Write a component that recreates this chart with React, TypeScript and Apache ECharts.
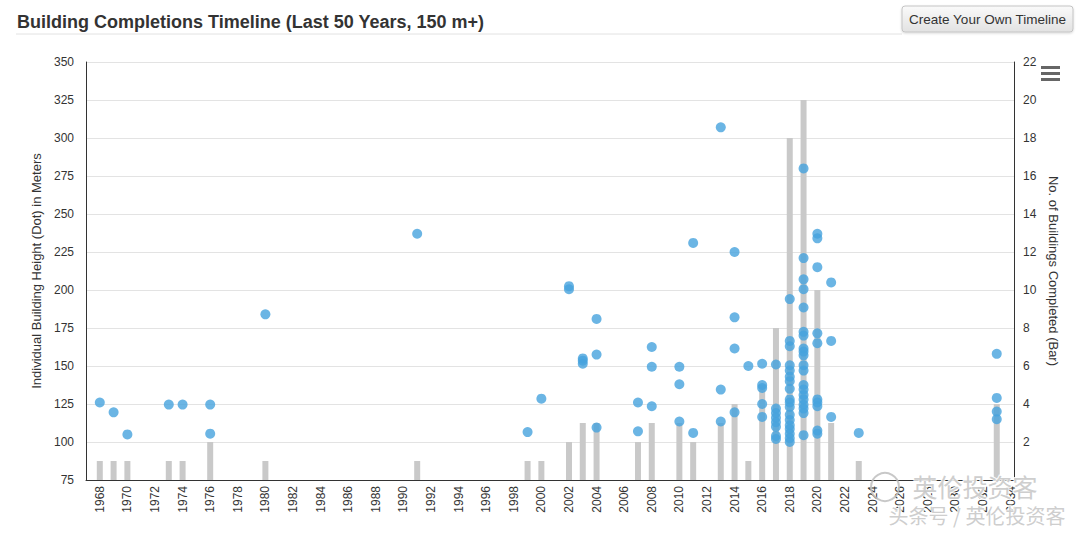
import React, { useEffect, useRef } from "react";
import * as echarts from "echarts";

const TITLE = "Building Completions Timeline (Last 50 Years, 150 m+)";
const BUTTON_TEXT = "Create Your Own Timeline";
const LEFT_AXIS_NAME = "Individual Building Height (Dot) in Meters";
const RIGHT_AXIS_NAME = "No. of Buildings Completed (Bar)";

const years = [1968, 1969, 1970, 1973, 1974, 1976, 1980, 1991, 1999, 2000, 2002, 2003, 2004, 2007, 2008, 2010, 2011, 2013, 2014, 2015, 2016, 2017, 2018, 2019, 2020, 2021, 2023, 2033];
const barCounts = [1, 1, 1, 1, 1, 2, 1, 1, 1, 1, 2, 3, 3, 2, 3, 3, 2, 3, 4, 1, 5, 8, 18, 20, 10, 3, 1, 4];
const heightsByYear: number[][] = [
  [126],
  [119.5],
  [105],
  [124.6],
  [124.6],
  [124.6, 105.5],
  [184],
  [237],
  [106.5],
  [128.5],
  [200.5, 202.5],
  [151.5, 153.5, 155],
  [181, 157.5, 109.5],
  [126, 107],
  [162.5, 149.5, 123.5],
  [149.5, 138, 113.5],
  [231, 106],
  [307, 134.5, 113.5],
  [225, 182, 161.5, 119.5],
  [150],
  [151.5, 137.5, 135.5, 125, 116.5],
  [151, 122, 119, 116, 113, 110, 104, 102],
  [194, 166.5, 163, 150.5, 147, 143, 140, 135, 128, 126, 123, 118, 114.5, 111, 108.5, 105.5, 102.5, 100],
  [280, 221, 207, 200.5, 188.5, 172.5, 170, 161.5, 159.5, 157, 150.5, 147, 137.5, 134.5, 131, 128, 124.5, 122, 119, 104.5],
  [237, 234, 215, 171.5, 165, 128, 126, 123.5, 107.5, 105.5],
  [205, 166.5, 116.5],
  [106],
  [158, 129, 120, 115],
];

const FONT = '"Liberation Sans", Arial, Helvetica, sans-serif';

export default function App() {
  const ref = useRef<HTMLDivElement>(null);
  useEffect(() => {
    document.body.style.margin = "0";
    if (!ref.current) return;
    const chart = echarts.init(ref.current, null, { renderer: "svg" });

    const barData = years.map((y, i) => [y, barCounts[i]]);
    const dotData: number[][] = [];
    years.forEach((y, i) => heightsByYear[i].forEach((h) => dotData.push([y, h])));

    const axisLineColor = "#333";
    chart.setOption({
      animation: false,
      backgroundColor: "#fff",
      textStyle: { fontFamily: FONT },
      title: {
        text: TITLE,
        left: 12,
        top: 8,
        textStyle: { fontSize: 18, fontWeight: "bold", color: "#333", fontFamily: FONT },
      },
      grid: {
        left: 86,
        right: 66,
        top: 62,
        bottom: 53,
        containLabel: false,
        outerBoundsMode: "none",
      },
      xAxis: {
        type: "value",
        min: 1967,
        max: 2034.25,
        interval: 1,
        axisLine: { show: true, lineStyle: { color: axisLineColor, width: 1 } },
        axisTick: { show: false },
        splitLine: { show: false },
        axisLabel: {
          rotate: 90,
          fontSize: 12,
          color: "#333",
          margin: 6,
          showMaxLabel: false,
          formatter: (v: number) => (v % 2 === 0 ? String(v) : ""),
        },
      },
      yAxis: [
        {
          type: "value",
          min: 75,
          max: 350,
          interval: 25,
          name: LEFT_AXIS_NAME,
          nameLocation: "middle",
          nameRotate: 90,
          nameGap: 37,
          nameTextStyle: { fontSize: 13, color: "#333" },
          axisLine: { show: true, lineStyle: { color: axisLineColor } },
          axisTick: { show: false },
          splitLine: { show: true, lineStyle: { color: "#e3e3e3", width: 1 } },
          axisLabel: { fontSize: 12, color: "#333", margin: 12 },
        },
        {
          type: "value",
          min: 0,
          max: 22,
          interval: 2,
          position: "right",
          name: RIGHT_AXIS_NAME,
          nameLocation: "middle",
          nameRotate: -90,
          nameGap: 32,
          nameTextStyle: { fontSize: 13, color: "#333" },
          axisLine: { show: true, lineStyle: { color: axisLineColor } },
          axisTick: { show: false },
          splitLine: { show: false },
          axisLabel: {
            fontSize: 12,
            color: "#333",
            margin: 9,
            formatter: (v: number) => (v === 0 ? "" : String(v)),
          },
        },
      ],
      series: [
        {
          type: "bar",
          yAxisIndex: 1,
          data: barData,
          barWidth: 6,
          itemStyle: { color: "#c9c9c9" },
          z: 1,
        },
        {
          type: "scatter",
          yAxisIndex: 0,
          data: dotData,
          symbol: "circle",
          symbolSize: 10,
          itemStyle: { color: "#46a3dd" },
          z: 3,
        },
      ],
      graphic: [
        {
          type: "line",
          shape: { x1: 16, y1: 34, x2: 902, y2: 34 },
          style: { stroke: "#e2e2e2", lineWidth: 1 },
          silent: true,
        },
        {
          type: "rect",
          shape: { x: 902, y: 6, width: 171, height: 26, r: 3 },
          style: {
            fill: new echarts.graphic.LinearGradient(0, 0, 0, 1, [
              { offset: 0, color: "#fafafa" },
              { offset: 1, color: "#e2e2e2" },
            ]),
            stroke: "#c4c4c4",
            lineWidth: 1,
            shadowBlur: 2,
            shadowColor: "rgba(0,0,0,0.15)",
            shadowOffsetY: 1,
          },
        },
        {
          type: "text",
          x: 987.5,
          y: 19,
          style: {
            text: BUTTON_TEXT,
            fontSize: 13.5,
            fontFamily: FONT,
            fill: "#333",
            align: "center",
            verticalAlign: "middle",
          },
        },
        { type: "rect", shape: { x: 1041, y: 66, width: 19, height: 3 }, style: { fill: "#666" } },
        { type: "rect", shape: { x: 1041, y: 72, width: 19, height: 3 }, style: { fill: "#666" } },
        { type: "rect", shape: { x: 1041, y: 78, width: 19, height: 3 }, style: { fill: "#666" } },
        {
          type: "circle",
          shape: { cx: 885, cy: 487, r: 14 },
          style: { fill: "none", stroke: "rgba(190,190,190,0.85)", lineWidth: 2 },
          z: 100,
        },
        {
          type: "text",
          x: 975,
          y: 486,
          style: {
            text: "英伦投资客",
            fontSize: 25,
            fontFamily: '"Noto Sans CJK SC", sans-serif',
            fill: "rgba(200,200,200,0.9)",
            stroke: "rgba(255,255,255,0.9)",
            lineWidth: 2,
            align: "center",
            verticalAlign: "middle",
          },
          z: 100,
        },
        {
          type: "text",
          x: 977,
          y: 515,
          style: {
            text: "头条号 / 英伦投资客",
            fontSize: 20,
            fontFamily: '"Noto Sans CJK SC", sans-serif',
            fill: "rgba(200,200,200,0.9)",
            stroke: "rgba(255,255,255,0.9)",
            lineWidth: 2,
            align: "center",
            verticalAlign: "middle",
          },
          z: 100,
        },
      ],
    });
    return () => chart.dispose();
  }, []);
  return <div ref={ref} style={{ width: 1080, height: 533 }} />;
}
